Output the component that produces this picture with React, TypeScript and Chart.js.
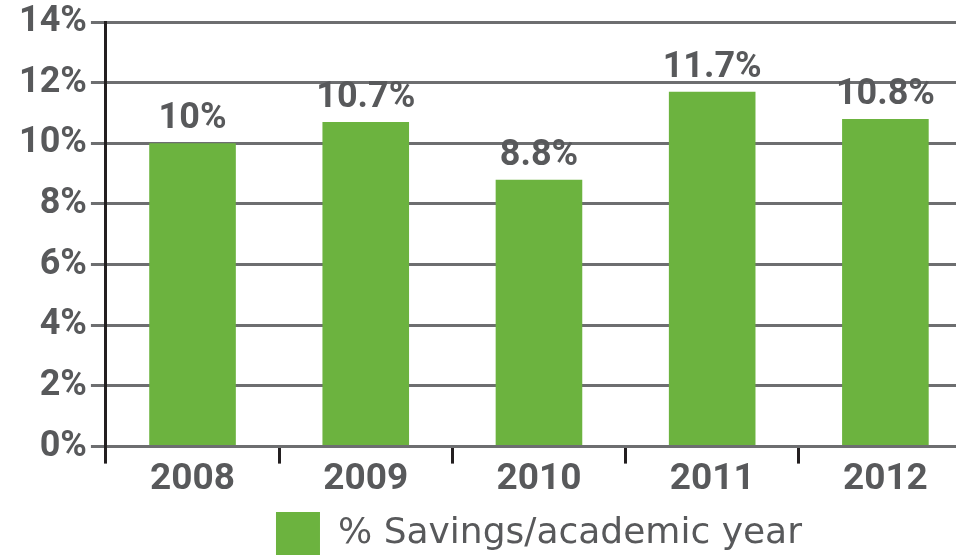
import React, { useEffect, useRef } from "react";
import { Chart, registerables } from "chart.js";

Chart.register(...registerables);

const categories = ["2008", "2009", "2010", "2011", "2012"];
const savings = [10, 10.7, 8.8, 11.7, 10.8];
const valueLabels = ["10%", "10.7%", "8.8%", "11.7%", "10.8%"];
const seriesName = "% Savings/academic year";
const yMin = 0;
const yMax = 14;
const yStep = 2;

const GREEN = "#6cb33f";
const TEXT = "#58595b";
const GRID = "#6d6e70";
const AXIS = "#231f20";
const FONT = "Roboto";
const LEGEND_FONT = "'DejaVu Sans'";

const valueLabelPlugin = {
  id: "valueLabels",
  afterDatasetsDraw(chart: any) {
    const ctx = chart.ctx;
    const meta = chart.getDatasetMeta(0);
    ctx.save();
    ctx.font = `bold 36px ${FONT}`;
    ctx.fillStyle = TEXT;
    ctx.textAlign = "center";
    ctx.textBaseline = "alphabetic";
    meta.data.forEach((bar: any, i: number) => {
      ctx.fillText(valueLabels[i], bar.x, bar.y - 15);
    });
    ctx.restore();
  },
};

export default function App() {
  const ref = useRef<HTMLCanvasElement | null>(null);
  useEffect(() => {
    if (!ref.current) return;
    const chart = new Chart(ref.current, {
      type: "bar",
      data: {
        labels: categories,
        datasets: [
          {
            label: seriesName,
            data: savings,
            backgroundColor: GREEN,
            borderWidth: 0,
            barPercentage: 0.5,
            categoryPercentage: 1,
          },
        ],
      },
      plugins: [valueLabelPlugin],
      options: {
        animation: false,
        responsive: true,
        maintainAspectRatio: false,
        layout: { padding: { top: 18, right: 0, left: 15, bottom: 0 } },
        plugins: {
          tooltip: { enabled: false },
          legend: {
            position: "bottom",
            fullSize: false,
            labels: {
              boxWidth: 44,
              boxHeight: 44,
              color: TEXT,
              font: { family: LEGEND_FONT, size: 36, weight: "normal" },
              padding: 8,
            },
          },
        },
        scales: {
          x: {
            offset: true,
            afterFit: (scale: any) => {
              scale.height += 8;
            },
            grid: {
              offset: true,
              drawOnChartArea: false,
              drawTicks: true,
              tickLength: 17,
              lineWidth: 3,
              color: (c: any) => (c.type === "tick" ? AXIS : "rgba(0,0,0,0)"),
            },
            border: { display: true, color: GRID, width: 3 },
            ticks: {
              color: TEXT,
              font: { family: FONT, size: 37, weight: "bold" },
              padding: -6,
            },
          },
          y: {
            min: yMin,
            max: yMax,
            grid: {
              color: GRID,
              lineWidth: 3,
              tickLength: 15,
              drawTicks: true,
            },
            border: { display: true, color: AXIS, width: 3 },
            ticks: {
              stepSize: yStep,
              color: TEXT,
              padding: 4,
              font: { family: FONT, size: 36, weight: "bold", lineHeight: 1 },
              callback: (v: any) => `${v}%`,
            },
          },
        },
      },
    });
    return () => chart.destroy();
  }, []);
  return (
    <div
      style={{
        position: "fixed",
        left: 0,
        top: 0,
        width: 956,
        height: 555,
        overflow: "hidden",
        background: "#fff",
      }}
    >
      <div style={{ position: "relative", width: 972, height: 566 }}>
        <canvas ref={ref} />
      </div>
    </div>
  );
}
